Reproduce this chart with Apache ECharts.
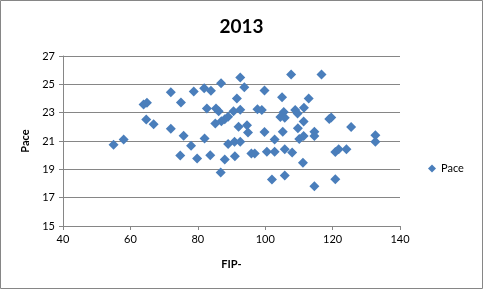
<!DOCTYPE html>
<html><head><meta charset="utf-8">
<script src="https://cdn.jsdelivr.net/npm/echarts@6/dist/echarts.min.js"></script>
<style>html,body{margin:0;padding:0;background:#fff}#c{width:483px;height:289px}</style>
</head><body><div id="c"></div>
<script>
const titleText = "2013";
const seriesName = "Pace";
const xName = "FIP-";
const yName = "Pace";
const fipMinus = [55.0,58.0,63.9,64.9,64.7,66.9,72.0,72.0,75.0,75.8,78.0,74.8,78.8,81.9,83.9,86.9,92.6,93.8,91.6,99.8,105.0,107.7,116.7,112.9,82.7,85.4,86.2,90.6,92.6,89.0,88.0,87.0,85.2,92.1,94.6,94.9,82.0,89.0,90.9,92.6,97.7,99.0,105.5,108.9,109.6,111.5,104.5,105.8,111.4,109.7,99.8,105.2,102.8,110.1,111.4,114.6,114.6,119.0,119.6,125.5,132.7,132.7,79.8,83.7,88.0,91.0,95.9,96.9,100.5,102.8,105.8,108.0,111.2,86.8,102.0,105.8,114.6,120.8,120.8,121.8,124.1];
const pace = [20.73,21.11,23.58,23.70,22.52,22.19,24.45,21.86,23.72,21.37,20.66,19.97,24.50,24.72,24.55,25.07,25.49,24.79,24.00,24.57,24.08,25.70,25.70,24.00,23.30,23.30,23.10,23.10,23.20,22.71,22.54,22.40,22.24,22.00,22.12,21.60,21.18,20.78,20.95,20.95,23.25,23.18,23.05,23.18,22.95,23.35,22.70,22.65,22.38,21.90,21.63,21.65,21.10,21.15,21.35,21.65,21.35,22.55,22.66,21.98,21.41,20.94,19.77,20.00,19.70,19.93,20.12,20.12,20.25,20.25,20.42,20.18,19.46,18.77,18.29,18.56,17.81,18.30,20.23,20.42,20.42];
const xTicks = {min:40,max:140,interval:20};
const yTicks = {min:15,max:27,interval:2};

const pts = fipMinus.map((x,i)=>[x,pace[i]]);
const font = "Lato, 'Open Sans', sans-serif";
const chart = echarts.init(document.getElementById('c'));
chart.setOption({
  animation:false,
  backgroundColor:'#fff',
  title:{text:titleText,left:'center',top:12,textStyle:{fontFamily:font,fontSize:19,fontWeight:'bold',color:'#000'}},
  graphic:[{type:'rect',shape:{x:0.5,y:0.5,width:482,height:288},style:{fill:'none',stroke:'#868686',lineWidth:1},silent:true}],
  legend:{data:[{name:seriesName,icon:'diamond'}],left:423,top:158,itemWidth:8,itemHeight:8,itemGap:5,textStyle:{fontFamily:font,fontSize:11,color:'#000'}},
  grid:{left:63,right:83,top:56,bottom:63},
  xAxis:{type:'value',min:xTicks.min,max:xTicks.max,interval:xTicks.interval,
    name:xName,nameLocation:'middle',nameGap:33,nameTextStyle:{fontFamily:font,fontSize:11,fontWeight:'bold',color:'#000'},
    axisLine:{show:true,lineStyle:{color:'#868686'}},axisTick:{show:true,length:4,lineStyle:{color:'#868686'}},
    axisLabel:{fontFamily:font,fontSize:11,color:'#000',margin:8},splitLine:{show:false}},
  yAxis:{type:'value',min:yTicks.min,max:yTicks.max,interval:yTicks.interval,
    name:yName,nameLocation:'middle',nameGap:29,nameTextStyle:{fontFamily:font,fontSize:11,fontWeight:'bold',color:'#000'},
    axisLine:{show:true,lineStyle:{color:'#868686'}},axisTick:{show:true,length:4,lineStyle:{color:'#868686'}},
    axisLabel:{fontFamily:font,fontSize:11,color:'#000',margin:8},splitLine:{show:true,lineStyle:{color:'#868686',width:1}}},
  series:[{name:seriesName,type:'scatter',symbol:'diamond',symbolSize:10,data:pts,itemStyle:{color:'#4A7EBB',opacity:1}}]
});
</script></body></html>
